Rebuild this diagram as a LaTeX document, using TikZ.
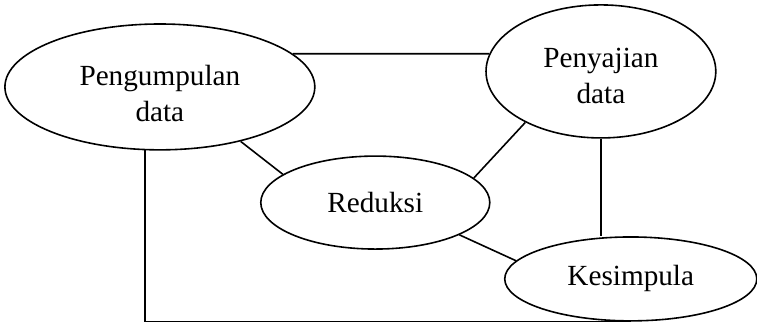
\documentclass[tikz,border=0pt]{standalone}
\usepackage{fontspec}
\setmainfont{Liberation Serif}
\usepackage{tikz}
\usetikzlibrary{shapes.geometric}

\begin{document}
\begin{tikzpicture}[every node/.style={ellipse, draw, line width=1.2pt, align=center, inner sep=0pt, font=\fontsize{22}{27}\selectfont}, line width=1.2pt]
\useasboundingbox (0,0) rectangle (20.03,-8.52);
% Ellipses
\node[minimum width=8.2cm, minimum height=3.33cm] (kumpul) at (4.23,-2.30) {\rule{0pt}{25pt}Pengumpulan\\data};
\node[minimum width=6.08cm, minimum height=3.52cm] (saji) at (15.90,-1.89) {\rule{0pt}{22pt}Penyajian\\data};
\node[minimum width=6.06cm, minimum height=2.46cm] (reduksi) at (9.93,-5.36) {Reduksi};
\node[minimum width=6.67cm, minimum height=2.22cm] (simpul) at (16.69,-7.38) {Kesimpula};

%Lines
\draw (kumpul.14.6) -- (saji.171.3);
\draw (kumpul.-34.8) -- (reduksi.163.8);
\draw (saji.214.7) -- (reduksi.14.7);
\draw (saji.south) -- (saji.south |- simpul.north);
\draw (reduksi.-21) -- (simpul.171);
\draw (kumpul.-103) |- (simpul.south);
\end{tikzpicture}
\end{document}
